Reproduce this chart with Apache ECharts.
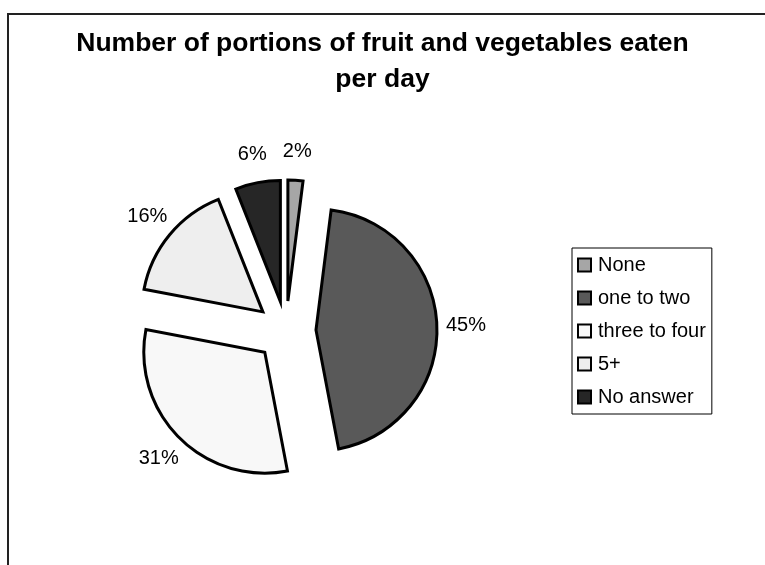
<!DOCTYPE html>
<html>
<head>
<meta charset="utf-8">
<script src="https://cdn.jsdelivr.net/npm/echarts@6/dist/echarts.min.js"></script>
<style>
  html, body { margin: 0; padding: 0; background: #fff; }
  #chart { width: 765px; height: 565px; }
</style>
</head>
<body>
<div id="chart"></div>
<script>
// portions of fruit and veg per day, % of answers
var categories = ['None', 'one to two', 'three to four', '5+', 'No answer'];
var shares = [2, 45, 31, 16, 6];
var sliceColors = ['#a6a6a6', '#595959', '#f8f8f8', '#eeeeee', '#262626'];

var font = "'Liberation Sans', Arial, sans-serif";
var pieCenter = [286, 331];

var chart = echarts.init(document.getElementById('chart'));

var sliceData = categories.map(function (name, i) {
  return { name: name, value: shares[i], selected: true, itemStyle: { color: sliceColors[i] } };
});
// same values again, only used to place the % labels out past the slices (like excel does)
var labelData = categories.map(function (name, i) {
  return { name: name, value: shares[i] };
});

var option = {
  animation: false,
  backgroundColor: '#fff',
  title: {
    text: 'Number of portions of fruit and vegetables eaten\nper day',
    left: 'center',
    top: 21,
    textStyle: { fontFamily: font, fontSize: 26.5, fontWeight: 'bold', color: '#000', lineHeight: 36 }
  },
  legend: {
    orient: 'vertical',
    left: 572,
    top: 248,
    padding: [7, 6, 7, 5],
    itemWidth: 13,
    itemHeight: 13,
    itemGap: 13,
    icon: 'rect',
    borderColor: '#000',
    borderWidth: 1,
    data: categories,
    itemStyle: { borderColor: '#000', borderWidth: 2 },
    textStyle: { fontFamily: font, fontSize: 20, color: '#000', padding: [0, 0, 0, 2] }
  },
  graphic: [{
    type: 'rect',
    silent: true,
    shape: { x: 8, y: 14, width: 820, height: 620 },
    style: { fill: 'none', stroke: '#222', lineWidth: 2 }
  }],
  series: [
    {
      name: 'portions',
      type: 'pie',
      center: pieCenter,
      radius: 121,
      startAngle: 90,
      clockwise: true,
      selectedMode: 'multiple',
      selectedOffset: 30,
      label: { show: false },
      labelLine: { show: false },
      itemStyle: { borderColor: '#000', borderWidth: 3, borderJoin: 'miter' },
      emphasis: { disabled: true },
      data: sliceData
    },
    {
      name: 'labels',
      type: 'pie',
      center: pieCenter,
      radius: [166, 188],
      startAngle: 90,
      clockwise: true,
      silent: true,
      percentPrecision: 0,
      itemStyle: { color: 'rgba(0,0,0,0)', borderWidth: 0 },
      label: {
        show: true,
        position: 'inside',
        formatter: '{d}%',
        fontFamily: font,
        fontSize: 20,
        color: '#000'
      },
      labelLine: { show: false },
      emphasis: { disabled: true },
      data: labelData
    }
  ]
};

chart.setOption(option);
</script>
</body>
</html>
